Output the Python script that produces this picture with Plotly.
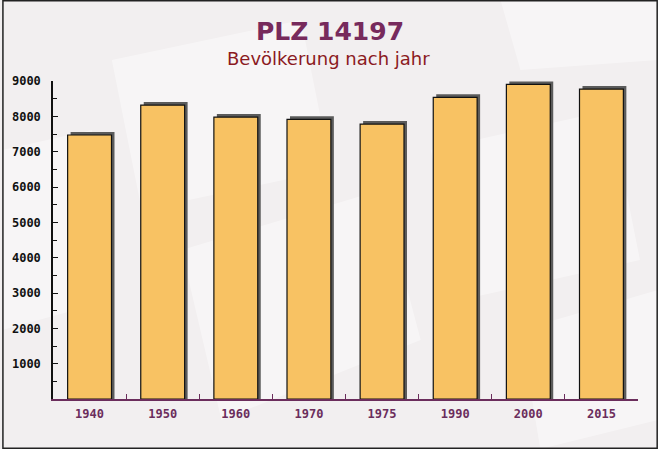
import plotly.graph_objects as go

years = ["1940", "1950", "1960", "1970", "1975", "1990", "2000", "2015"]
population = [7472, 8320, 7980, 7915, 7782, 8537, 8904, 8771]
y_tick_values = [1000, 2000, 3000, 4000, 5000, 6000, 7000, 8000, 9000]

title_text = "PLZ 14197"
subtitle_text = "Bevölkerung nach jahr"

W, H = 658, 449
ML, MR, MT, MB = 51, 20, 81, 50
pw, ph = W - ML - MR, H - MT - MB
y_max = 9000

bar_w = 0.6
sx = 3 / (pw / len(years))          # shadow shift, category units
sy = 3 * y_max / ph                  # shadow shift, value units


def px_x(x):
    return (x - ML) / pw


def px_y(y):
    return (H - MB - y) / ph


fig = go.Figure()
fig.add_trace(go.Bar(
    x=years, y=[v + sy for v in population],
    width=bar_w, offset=-bar_w / 2 + sx,
    marker=dict(color="#5b5b5b", line=dict(width=0)),
    hoverinfo="skip", showlegend=False,
))
fig.add_trace(go.Bar(
    x=years, y=population,
    width=bar_w, offset=-bar_w / 2,
    marker=dict(color="#f8c263", line=dict(color="#111111", width=1.2)),
    showlegend=False,
))

# faint decorative background "envelopes" (pixel polygons)
deco = [
    [(110, 60), (300, 20), (330, 170), (140, 210)],
    [(430, 150), (610, 110), (640, 260), (460, 300)],
    [(180, 250), (380, 190), (420, 340), (220, 420)],
    [(0, 150), (90, 130), (110, 300), (0, 330)],
    [(500, 0), (658, 0), (658, 60), (520, 70)],
    [(520, 330), (658, 290), (658, 420), (540, 449)],
]
for poly in deco:
    path = "M " + " L ".join(f"{px_x(a):.4f},{px_y(b):.4f}" for a, b in poly) + " Z"
    fig.add_shape(type="path", path=path, xref="paper", yref="paper",
                  fillcolor="rgba(255,255,255,0.4)", line=dict(width=0), layer="below")

# frame around the whole image
fig.add_shape(type="rect", xref="paper", yref="paper",
              x0=px_x(0.75), x1=px_x(W - 0.75), y0=px_y(H - 0.75), y1=px_y(0.75),
              line=dict(color="#222222", width=1.5), layer="above")

fig.add_annotation(text="<b>" + title_text + "</b>", xref="paper", yref="paper",
                   x=px_x(329), y=px_y(31.5), showarrow=False,
                   font=dict(family="DejaVu Sans", size=25, color="#772a5c"),
                   xanchor="center", yanchor="middle")
fig.add_annotation(text=subtitle_text, xref="paper", yref="paper",
                   x=px_x(327), y=px_y(58.5), showarrow=False,
                   font=dict(family="DejaVu Sans", size=18, color="#8b1a22"),
                   xanchor="center", yanchor="middle")

fig.update_layout(
    width=W, height=H,
    margin=dict(l=ML, r=MR, t=MT, b=MB, pad=0),
    paper_bgcolor="#f2eff0", plot_bgcolor="rgba(0,0,0,0)",
    barmode="overlay", bargap=0.4,
    font=dict(family="DejaVu Sans Mono"),
)
fig.update_xaxes(
    type="category", showgrid=False, zeroline=False,
    showline=True, linecolor="#6b2d5c", linewidth=1.5,
    ticks="inside", tickson="boundaries", ticklen=5, tickcolor="#6b2d5c",
    tickfont=dict(family="DejaVu Sans Mono", size=12, color="#6b2d5c", weight="bold"),
    ticklabelstandoff=3,
)
fig.update_yaxes(
    range=[0, y_max], showgrid=False, zeroline=False,
    showline=True, linecolor="#111111", linewidth=1.5,
    tickmode="array", tickvals=y_tick_values,
    ticks="inside", ticklen=5, tickcolor="#111111",
    minor=dict(ticks="inside", ticklen=4, tickmode="linear", dtick=500, tick0=0, tickcolor="#111111"),
    tickfont=dict(family="DejaVu Sans Mono", size=12, color="#111111", weight="bold"),
    ticklabelstandoff=8,
)

fig.write_html(
    "out.html",
    config={"displayModeBar": False},
    post_script="document.documentElement.style.overflow='hidden';"
                "document.body.style.margin='0';document.body.style.overflow='hidden';",
)
